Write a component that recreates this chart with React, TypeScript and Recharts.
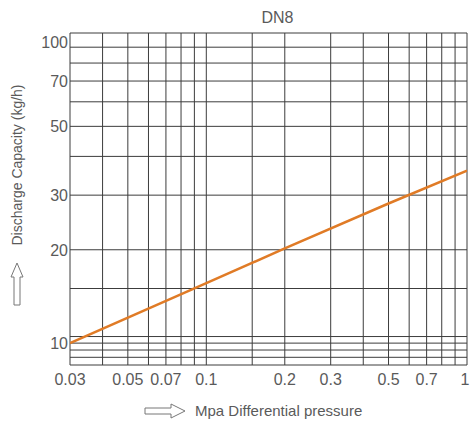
import { CartesianGrid, Line, LineChart, XAxis, YAxis } from 'recharts';

// pressure (MPa) -> discharge capacity (kg/h)
const pressure = [0.03, 0.1, 0.2, 0.5, 1];
const capacity = [10, 15.6, 20.2, 28.2, 36];

const xGrid = [0.03, 0.04, 0.05, 0.06, 0.07, 0.08, 0.09, 0.1, 0.15, 0.2, 0.3, 0.4, 0.5, 0.6, 0.7, 0.8, 0.9, 1];
const xLabels = [0.03, 0.05, 0.07, 0.1, 0.2, 0.3, 0.5, 0.7, 1];
const yGrid = [8.5, 9, 9.5, 10, 10.5, 15, 20, 30, 40, 50, 60, 70, 80, 90, 100];
const yLabels = [10, 20, 30, 50, 70, 100];

const data = pressure.map((p, i) => ({ p, q: capacity[i] }));

const FONT = 'Liberation Sans, Arial, sans-serif';
const TEXT = '#5a5a5a';

const match = (list: number[], v: number) => list.find((l) => Math.abs(l - Number(v)) < l * 1e-6);

function XTick({ x, y, payload }: any) {
  const v = match(xLabels, payload.value);
  if (v === undefined) return null;
  return (
    <text x={v === 1 ? x - 2 : x} y={y + 20} textAnchor="middle" fontSize={16} fill={TEXT} fontFamily={FONT}>
      {v}
    </text>
  );
}

function YTick({ x, y, payload }: any) {
  const v = match(yLabels, payload.value);
  if (v === undefined) return null;
  const dy = v === 100 ? 15 : 6;
  return (
    <text x={x} y={y + dy} textAnchor="end" fontSize={16} fill={TEXT} fontFamily={FONT}>
      {v}
    </text>
  );
}

function XLabel({ viewBox }: any) {
  const y = viewBox.y + 46;
  const x0 = 145;
  return (
    <g>
      <path
        d={`M${x0} ${y - 3} L${x0 + 26} ${y - 3} L${x0 + 26} ${y - 7} L${x0 + 40} ${y} L${x0 + 26} ${y + 7} L${x0 + 26} ${y + 3} L${x0} ${y + 3} Z`}
        fill="#fff"
        stroke="#777"
        strokeWidth={1}
      />
      <text x={195} y={y + 5} fontSize={15} fill={TEXT} fontFamily={FONT}>
        Mpa Differential pressure
      </text>
    </g>
  );
}

function YLabel({ viewBox }: any) {
  const cx = 17;
  const cy = viewBox.y + 132;
  const top = viewBox.y + 230;
  return (
    <g>
      <text
        x={cx}
        y={cy}
        transform={`rotate(-90 ${cx} ${cy})`}
        textAnchor="middle"
        dominantBaseline="central"
        fontSize={14}
        fill={TEXT}
        fontFamily={FONT}
      >
        Discharge Capacity (kg/h)
      </text>
      <path
        d={`M${cx} ${top} L${cx + 6} ${top + 14} L${cx + 3} ${top + 14} L${cx + 3} ${top + 42} L${cx - 3} ${top + 42} L${cx - 3} ${top + 14} L${cx - 6} ${top + 14} Z`}
        fill="#fff"
        stroke="#777"
        strokeWidth={1}
      />
    </g>
  );
}

export default function App() {
  return (
    <div style={{ position: 'absolute', left: 0, top: 0, width: 470, height: 423 }}>
      <div
        style={{
          position: 'absolute',
          left: 0,
          width: 555,
          top: 9,
          textAlign: 'center',
          fontFamily: FONT,
          fontSize: 16,
          color: TEXT,
        }}
      >
        DN8
      </div>
      <LineChart width={470} height={423} data={data} margin={{ top: 33, right: 3, left: 8, bottom: 0 }}>
        <CartesianGrid stroke="#3c3c3c" strokeWidth={1} />
        <XAxis
          dataKey="p"
          type="number"
          scale="log"
          domain={[0.03, 1]}
          ticks={xGrid}
          interval={0}
          allowDataOverflow
          axisLine={false}
          tickLine={false}
          tickSize={0}
          tickMargin={0}
          height={58}
          tick={<XTick />}
          label={<XLabel />}
        />
        <YAxis
          type="number"
          scale="log"
          domain={[8.5, 100]}
          ticks={yGrid}
          interval={0}
          allowDataOverflow
          axisLine={false}
          tickLine={false}
          tickSize={0}
          tickMargin={2}
          width={62}
          tick={<YTick />}
          label={<YLabel />}
        />
        <Line dataKey="q" stroke="#e07b26" strokeWidth={2.5} dot={false} isAnimationActive={false} />
      </LineChart>
    </div>
  );
}
